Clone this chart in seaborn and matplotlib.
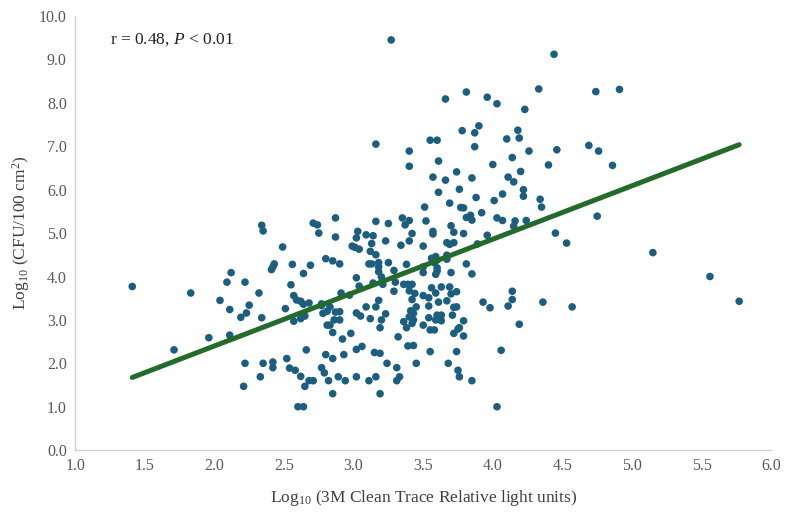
import numpy as np
import pandas as pd
import matplotlib
matplotlib.use('Agg')
import matplotlib.pyplot as plt
import seaborn as sns

# Points: Log10 RLU (x) vs Log10 CFU/100 cm2 (y)
rlu = [
    3.27, 3.16, 3.40, 4.44, 3.66, 3.81, 3.96, 4.03, 4.33, 4.74, 4.23, 3.78, 3.90, 3.87,
    4.18, 4.19, 4.10, 3.55, 3.60, 3.87, 4.14, 4.26, 4.46, 4.69, 4.76, 3.61, 4.91,
    1.41, 1.83, 2.12, 2.09, 2.22, 2.04, 2.25,
    1.71, 1.96, 2.11, 2.11, 2.19, 2.23, 2.22, 2.21,
    3.40, 3.51, 3.52, 2.34, 2.35, 2.71, 2.74, 2.75, 2.87, 2.87, 2.49, 3.16, 3.25, 3.35,
    3.37, 3.40, 3.42, 3.40, 3.34, 3.50, 3.03, 3.02, 3.09, 3.14, 3.13, 3.23, 2.99, 3.01,
    3.04, 3.12, 3.16, 2.80, 2.85, 2.90, 2.56, 2.69, 2.43, 2.42, 2.41, 2.64, 3.11, 3.13,
    3.18, 3.18, 3.25, 3.18, 3.20, 3.29, 3.38, 3.50, 3.50, 2.55, 3.02, 3.04, 3.14, 3.21,
    3.30, 3.36, 3.39, 3.42, 3.40, 3.44, 3.50, 3.42, 3.29, 2.32, 2.57, 2.59, 2.62, 2.68,
    2.77, 2.91, 2.97, 3.18,
    4.00, 4.40, 3.74, 3.57, 3.66, 3.85, 4.11, 4.15, 4.20, 3.76, 3.61, 4.22, 4.22, 4.07,
    3.88, 4.01, 3.69, 3.77, 3.79, 4.34, 4.35, 3.92, 3.81, 3.84, 3.85, 4.03, 4.07, 4.16,
    4.15, 4.24, 3.70, 3.57, 3.57, 3.72, 3.79, 3.96, 4.45, 4.75, 4.53, 3.67, 3.69, 3.72,
    3.89, 3.59, 3.56, 3.60, 3.67, 3.67, 3.58, 3.60, 3.60, 3.81, 3.85, 3.70, 3.59, 3.56,
    3.63, 3.69, 3.59, 3.70, 3.74, 4.14, 4.14, 3.54, 3.61, 3.67, 3.93, 4.36,
    4.86, 5.15, 5.56, 5.77,
    2.34, 2.51, 2.57, 2.64, 2.62, 2.65, 2.77, 2.78, 2.81, 2.83, 2.87, 2.90, 2.86, 2.90,
    2.81, 2.83, 2.85, 2.92, 2.98, 3.02, 3.05, 3.09, 3.12, 3.16, 3.20, 3.19, 3.23, 3.32,
    3.36, 3.38, 3.40, 3.43, 3.41, 3.45, 3.42, 3.43, 3.50, 3.39, 3.43, 3.45, 2.66, 2.80,
    2.85, 2.93, 3.02, 3.06, 3.15, 3.19, 3.24, 2.35, 2.42, 2.42, 2.52, 2.54, 2.58, 2.33,
    2.62, 2.68, 2.71, 2.65, 2.77, 2.79, 2.82, 2.85, 2.89, 2.94, 3.02, 3.11, 3.16, 3.19,
    3.31, 3.33, 3.31, 2.60, 2.64,
    3.54, 3.98, 4.11, 4.57, 3.54, 3.60, 3.63, 3.59, 3.63, 3.71, 3.72, 3.74, 3.79, 4.19,
    3.55, 3.58, 3.72, 3.75, 3.76, 3.79, 3.55, 3.74, 4.06, 3.68, 3.75, 3.76, 3.85, 4.03,
]
cfu = [
    9.45, 7.05, 6.89, 9.12, 8.09, 8.25, 8.13, 7.98, 8.32, 8.26, 7.85, 7.36, 7.47, 7.31,
    7.37, 7.19, 7.17, 7.14, 7.14, 6.99, 6.74, 6.89, 6.92, 7.02, 6.89, 6.66, 8.31,
    3.77, 3.62, 4.09, 3.87, 3.87, 3.45, 3.34,
    2.31, 2.59, 2.65, 3.24, 3.06, 3.16, 2.00, 1.47,
    6.54, 5.60, 5.28, 5.18, 5.05, 5.23, 5.19, 5.00, 5.35, 4.91, 4.68, 5.27, 5.22, 5.35,
    5.19, 5.29, 4.99, 4.82, 4.72, 4.70, 5.04, 4.89, 4.96, 4.94, 4.76, 4.82, 4.70, 4.67,
    4.63, 4.58, 4.50, 4.41, 4.36, 4.29, 4.28, 4.26, 4.29, 4.22, 4.16, 4.07, 4.29, 4.29,
    4.32, 4.22, 4.32, 4.11, 3.99, 4.14, 4.28, 4.22, 4.09, 3.81, 3.97, 3.78, 3.85, 3.82,
    3.87, 3.82, 3.82, 3.82, 3.67, 3.61, 3.56, 3.47, 3.66, 3.62, 3.56, 3.46, 3.43, 3.39,
    3.37, 3.62, 3.57, 3.45,
    6.58, 6.57, 6.41, 6.29, 6.22, 6.27, 6.29, 6.18, 6.42, 6.01, 5.94, 6.00, 5.85, 5.90,
    5.82, 5.75, 5.69, 5.59, 5.58, 5.78, 5.60, 5.47, 5.36, 5.41, 5.30, 5.35, 5.29, 5.28,
    5.16, 5.29, 5.17, 5.04, 4.98, 5.02, 4.99, 4.95, 5.00, 5.39, 4.77, 4.78, 4.74, 4.78,
    4.75, 4.46, 4.42, 4.38, 4.49, 4.40, 4.32, 4.20, 4.13, 4.29, 4.06, 4.09, 4.05, 3.74,
    3.76, 3.76, 3.62, 3.60, 3.65, 3.66, 3.47, 3.51, 3.41, 3.44, 3.41, 3.41,
    6.56, 4.55, 4.00, 3.43,
    3.05, 3.26, 2.97, 3.36, 3.03, 3.09, 3.33, 3.15, 3.20, 3.30, 3.18, 3.19, 3.00, 3.00,
    2.88, 2.88, 2.71, 2.56, 2.69, 3.16, 3.09, 3.30, 3.03, 3.30, 3.00, 2.82, 3.14, 2.61,
    2.96, 2.82, 3.07, 3.15, 3.21, 3.30, 2.92, 3.00, 2.88, 2.40, 2.41, 2.00, 2.31, 2.20,
    2.11, 2.20, 2.32, 2.39, 2.25, 2.23, 2.00, 2.00, 2.03, 1.90, 2.11, 1.89, 1.84, 1.69,
    1.70, 1.60, 1.60, 1.47, 1.90, 1.78, 1.60, 1.30, 1.69, 1.60, 1.69, 1.60, 1.69, 1.30,
    1.90, 1.69, 1.60, 1.00, 1.00,
    3.32, 3.28, 3.32, 3.30, 3.05, 3.11, 3.11, 3.00, 2.98, 3.11, 3.29, 3.30, 2.98, 2.90,
    2.77, 2.77, 2.69, 2.79, 2.82, 2.63, 2.27, 2.27, 2.30, 2.00, 1.84, 1.69, 1.60, 1.00,
]

# Trendline as shown on the chart
slope = 1.23
intercept = -0.06
r_text = r'r = 0.48, $P$ < 0.01'

df = pd.DataFrame({'rlu': rlu, 'cfu': cfu})

sns.set_style('white')
plt.rcParams['font.family'] = ['Liberation Serif', 'DejaVu Serif']
plt.rcParams['mathtext.fontset'] = 'custom'
plt.rcParams['mathtext.rm'] = 'Liberation Serif'
plt.rcParams['mathtext.it'] = 'Liberation Serif:italic'

fig = plt.figure(figsize=(8, 5.18), dpi=100)
ax = fig.add_axes([0.094, 0.131, 0.870, 0.838])

sns.scatterplot(data=df, x='rlu', y='cfu', color='#1b5e80', s=30,
                edgecolor='none', ax=ax, zorder=3)

xs = np.array([df['rlu'].min(), df['rlu'].max()])
ax.plot(xs, intercept + slope * xs, color='#236b2b', linewidth=3.6,
        solid_capstyle='round', zorder=4)

ax.set_xlim(1.0, 6.0)
ax.set_ylim(0.0, 10.0)
ax.set_xticks(np.arange(1.0, 6.01, 0.5))
ax.set_yticks(np.arange(0.0, 10.01, 1.0))
ax.set_xticklabels([f'{v:.1f}' for v in np.arange(1.0, 6.01, 0.5)])
ax.set_yticklabels([f'{v:.1f}' for v in np.arange(0.0, 10.01, 1.0)])
ax.tick_params(axis='both', labelsize=11.5, colors='#595959', length=0, pad=6)

ax.set_xlabel(r'Log$_{10}$ (3M Clean Trace Relative light units)', fontsize=12.5,
              color='#404040', labelpad=10)
ax.set_ylabel(r'Log$_{10}$ (CFU/100 cm$^{2}$)', fontsize=12.5, color='#404040',
              labelpad=5)

for side in ['top', 'right']:
    ax.spines[side].set_visible(False)
for side in ['left', 'bottom']:
    ax.spines[side].set_color('#d0d0d0')
    ax.spines[side].set_linewidth(1.0)

ax.text(0.05, 0.945, r_text, transform=ax.transAxes, fontsize=12.5,
        color='#222222', va='center', ha='left')

fig.savefig('out.png', dpi=100)
